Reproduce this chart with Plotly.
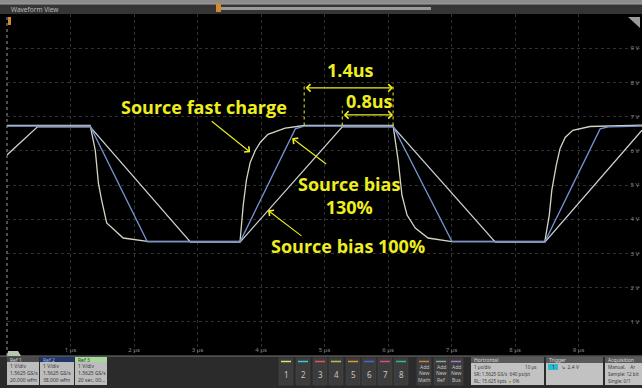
import plotly.graph_objects as go

# ---- waveform data (time in µs, level in V) ----
fast_t = [0.00, 1.31, 1.39, 1.44, 1.49, 1.57, 1.83, 2.21, 3.67, 3.72, 3.77, 3.83, 3.91,
          3.99, 4.11, 4.38, 4.68, 6.08, 6.16, 6.22, 6.30, 6.43, 6.63, 6.98, 8.47, 8.54,
          8.58, 8.65, 8.71, 8.79, 8.91, 9.18, 10.00]
fast_v = [6.74, 6.74, 6.01, 5.05, 4.56, 3.89, 3.45, 3.35, 3.35, 4.41, 5.14, 5.66, 6.01,
          6.25, 6.48, 6.66, 6.74, 6.74, 5.72, 4.70, 4.12, 3.74, 3.45, 3.35, 3.35, 4.12,
          4.85, 5.58, 6.07, 6.39, 6.60, 6.71, 6.75]

bias130_t = [0.00, 1.31, 2.21, 3.67, 4.54, 4.68, 6.08, 7.01, 8.47, 9.34, 9.47, 10.00]
bias130_v = [6.72, 6.72, 3.34, 3.34, 6.64, 6.72, 6.72, 3.34, 3.34, 6.64, 6.70, 6.72]

bias100_t = [0.00, 0.48, 1.31, 2.89, 3.67, 5.28, 6.08, 7.69, 8.47, 10.00]
bias100_v = [5.88, 6.70, 6.70, 3.33, 3.33, 6.70, 6.70, 3.33, 3.33, 6.60]

# timing markers
t_edge = 6.08          # falling edge used as reference
span_fast = 1.4        # fast-charge settle to edge
span_slow = 0.8        # 100 % bias settle to edge

x_ticks = [1, 2, 3, 4, 5, 6, 7, 8, 9]
y_ticks = [1, 2, 3, 4, 5, 6, 7, 8, 9]

W, H = 642, 388
ML, MR, MT, MB = 7, 0, 14, 32
PW, PH = W - ML - MR, H - MT - MB


def px(x):
    return (x - ML) / PW


def py(y):
    return (H - MB - y) / PH


shapes = []
annotations = []


def rect(x0, y0, x1, y1, fill, line=None, lw=0):
    shapes.append(dict(type="rect", xref="paper", yref="paper", layer="above",
                       x0=px(x0), x1=px(x1), y0=py(y1), y1=py(y0),
                       fillcolor=fill, line=dict(width=lw, color=line or fill)))


def hline(x0, x1, y, color, w=1):
    shapes.append(dict(type="line", xref="paper", yref="paper", layer="above",
                       x0=px(x0), x1=px(x1), y0=py(y), y1=py(y),
                       line=dict(color=color, width=w)))


def text(x, y, s, size=5.5, color="#c8c8c8", anchor="left", family="Noto Sans"):
    annotations.append(dict(xref="paper", yref="paper", x=px(x), y=py(y), text=s,
                            showarrow=False, xanchor=anchor, yanchor="middle",
                            font=dict(size=size, color=color, family=family),
                            borderpad=0))


fig = go.Figure()

fig.add_trace(go.Scatter(x=bias100_t, y=bias100_v, mode="lines",
                         line=dict(color="#cdd0d4", width=1.3), name="Source bias 100%"))
fig.add_trace(go.Scatter(x=fast_t, y=fast_v, mode="lines",
                         line=dict(color="#d2d6c2", width=1.3), name="Source fast charge"))
fig.add_trace(go.Scatter(x=bias130_t, y=bias130_v, mode="lines",
                         line=dict(color="#7592d0", width=1.3), name="Source bias 130%"))

# ---- measurement markers ----
YEL = "#eeee1e"
for tx, top in [(t_edge - span_fast, 7.98), (t_edge - span_slow, 7.30), (t_edge, 7.98)]:
    shapes.append(dict(type="line", xref="x", yref="y", x0=tx, x1=tx, y0=6.74, y1=top,
                       line=dict(color=YEL, width=1, dash="dot"), layer="above"))

for span, yv, lab_y in [(span_fast, 7.84, 8.36), (span_slow, 7.05, 7.46)]:
    annotations.append(dict(x=t_edge, y=yv, ax=t_edge - span, ay=yv, xref="x", yref="y",
                            axref="x", ayref="y", text="", showarrow=True,
                            arrowside="end+start", arrowhead=4, startarrowhead=4,
                            arrowsize=1.3, startarrowsize=1.3,
                            arrowwidth=1.1, arrowcolor=YEL))
    annotations.append(dict(x=t_edge - span / 2 + 0.03, y=lab_y, xref="x", yref="y",
                            text=f"<b>{span}us</b>", showarrow=False,
                            font=dict(size=18, color=YEL, family="Open Sans")))

# callout labels
labels = [
    ("Source fast charge", 3.10, 7.28),
    ("Source bias<br>130%", 5.39, 4.69),
    ("Source bias 100%", 5.37, 3.21),
]
for s, lx, ly in labels:
    annotations.append(dict(x=lx, y=ly, xref="x", yref="y", text=f"<b>{s}</b>",
                            showarrow=False, align="center",
                            font=dict(size=18, color=YEL, family="Open Sans")))

# pointer arrows (head, tail) in data units
pointers = [
    ((3.83, 5.96), (3.20, 6.90)),
    ((4.49, 6.37), (5.05, 5.58)),
    ((4.11, 4.26), (4.66, 3.48)),
]
for (hx, hy), (tx, ty) in pointers:
    annotations.append(dict(x=hx, y=hy, ax=tx, ay=ty, xref="x", yref="y", axref="x",
                            ayref="y", text="", showarrow=True, arrowhead=4,
                            arrowsize=1.3, arrowwidth=1.1, arrowcolor=YEL))

# ---- instrument chrome: header bar ----
rect(0, 0, W, 4, "#8c8c8c")
rect(0, 4, W, 14, "#353535")
hline(0, W, 4, "#a0a0a0")
rect(218, 7, 431, 10, "#9a9a9a")
rect(216, 3, 221, 12, "#d08a30")
text(10, 9, "Waveform View", size=6.5, color="#b8b8b8")
rect(8, 17, 11, 25, "#d08a30")
shapes.append(dict(type="path", xref="paper", yref="paper", layer="above",
                   path=f"M {px(628)},{py(17)} L {px(640)},{py(17)} L {px(640)},{py(28)} Z",
                   fillcolor="#9a9a9a", line=dict(width=0)))
# left border of the graticule
shapes.append(dict(type="line", xref="paper", yref="paper", x0=0, x1=0, y0=0, y1=1,
                   line=dict(color="#9a9a9a", width=1, dash="dot"), layer="above"))

# ---- instrument chrome: bottom panel ----
rect(0, 356, W, H, "#2b2b2b")
hline(0, W, 356, "#777777")
shapes.append(dict(type="path", xref="paper", yref="paper", layer="above",
                   path=(f"M {px(7)},{py(356)} L {px(8)},{py(351)} L {px(18)},{py(351)} "
                         f"L {px(21)},{py(356)} Z"),
                   fillcolor="#b6c8ae", line=dict(width=0)))

refs = [
    (7, 39, "Ref 1", "#4a4a4a", "#d0d0d0", "20,000 wfm"),
    (40, 74, "Ref 2", "#22366a", "#9fb6e6", "38,000 wfm"),
    (75, 107, "Ref 3", "#a6d89c", "#2a402a", "20 sec, 00..."),
]
for x0, x1, name, hc, tc, last in refs:
    rect(x0, 357, x1, 362, hc)
    rect(x0, 362, x1, 385, "#bdbdbd")
    text(x0 + 2, 359.5, name, size=5, color=tc)
    text(x0 + 1.5, 366, "1 V/div", size=5, color="#3a3a3a")
    text(x0 + 1.5, 373, "1.5625 GS/s", size=5, color="#3a3a3a")
    text(x0 + 1.5, 380, last, size=5, color="#3a3a3a")

btn_colors = ["#e6de6a", "#44c4d4", "#e0506e", "#b4c048", "#d89a3c", "#4a66cc",
              "#d84c78", "#38b888"]
btn_x = [279, 296, 313, 329, 346, 362, 378, 394]
for i, (bx, bc) in enumerate(zip(btn_x, btn_colors)):
    rect(bx, 358, bx + 14, 385, "#3c3c3c", line="#4a4a4a", lw=0.5)
    hline(bx + 2, bx + 12, 361.5, bc, 1.5)
    text(bx + 7, 374, str(i + 1), size=8, color="#c4c4c4", anchor="center")

for bx, bc, word in [(417, "#c08444", "Math"), (434, "#86a6a6", "Ref"), (449, "#a878c8", "Bus")]:
    rect(bx, 358, bx + 14, 385, "#3c3c3c", line="#4a4a4a", lw=0.5)
    hline(bx + 2, bx + 12, 361.5, bc, 1.5)
    text(bx + 7, 366.5, "Add", size=5, color="#c4c4c4", anchor="center")
    text(bx + 7, 373, "New", size=5, color="#c4c4c4", anchor="center")
    text(bx + 7, 379.5, word, size=5, color="#c4c4c4", anchor="center")

# Horizontal box
rect(471, 357, 544, 363, "#5a5a5a")
rect(471, 363, 544, 385, "#c2c2c2")
text(473, 360, "Horizontal", size=5, color="#dcdcdc")
text(473, 367, "1 µs/div", size=4.6, color="#3a3a3a")
text(524, 367, "10 µs", size=4.6, color="#3a3a3a")
text(473, 374, "SR: 1.5625 GS/s  640 ps/pt", size=4.6, color="#3a3a3a")
text(473, 381, "RL: 15.625 kpts  <span style='color:#c08020'>●</span> 0%", size=4.6,
     color="#3a3a3a")

# Trigger box
rect(546, 357, 603, 363, "#5a5a5a")
rect(546, 363, 603, 385, "#c2c2c2")
text(548, 360, "Trigger", size=5, color="#dcdcdc")
rect(548, 364, 558, 370, "#2fb8cc")
text(553, 367, "1", size=5, color="#10303a", anchor="center")
text(560, 367, "↘  2.4 V", size=5, color="#3a3a3a")

# Acquisition box
rect(605, 357, 642, 363, "#5a5a5a")
rect(605, 363, 642, 385, "#c2c2c2")
text(607, 360, "Acquisition", size=5, color="#dcdcdc")
text(607, 367, "Manual,    Ar", size=4.6, color="#3a3a3a")
text(607, 374, "Sample: 12 bit", size=4.6, color="#3a3a3a")
text(607, 381, "Single: 0/1", size=4.6, color="#3a3a3a")

fig.update_layout(
    width=W, height=H, autosize=False,
    margin=dict(l=ML, r=MR, t=MT, b=MB, pad=0),
    paper_bgcolor="#000000", plot_bgcolor="#000000",
    showlegend=False,
    shapes=shapes, annotations=annotations,
    xaxis=dict(range=[0, 10], tickvals=x_ticks, ticktext=[f"{v} µs" for v in x_ticks],
               ticklabelposition="inside", ticks="", showgrid=True,
               gridcolor="#303030", griddash="dot", gridwidth=1, zeroline=False,
               showline=False, tickfont=dict(size=6, color="#8a8a8a", family="Noto Sans"),
               fixedrange=True),
    yaxis=dict(range=[0, 10], tickvals=y_ticks, ticktext=[f"{v} V" for v in y_ticks],
               side="right", ticklabelposition="inside", ticks="", showgrid=True,
               gridcolor="#303030", griddash="dot", gridwidth=1, zeroline=False,
               showline=False, tickfont=dict(size=6, color="#8a8a8a", family="Noto Sans"),
               fixedrange=True),
)

fig.write_html("out.html")
